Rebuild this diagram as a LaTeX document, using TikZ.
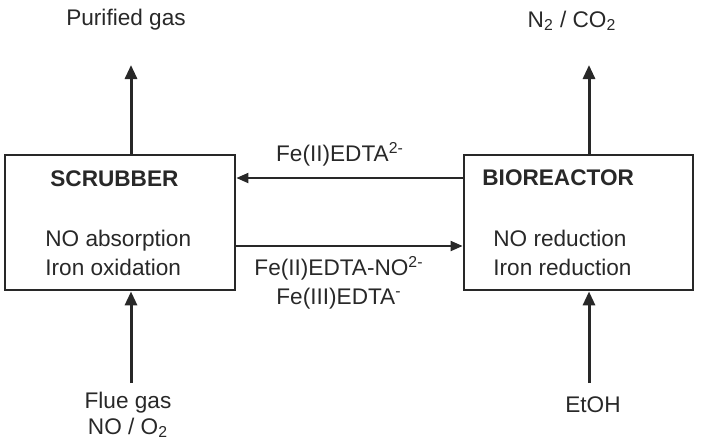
\documentclass[tikz,border=0pt]{standalone}
\usepackage{fontspec}
\setmainfont{Liberation Sans}
\usepackage{tikz}
\usetikzlibrary{arrows.meta, positioning}
\definecolor{mydark}{RGB}{40,40,40}
\tikzset{
  unitbox/.style={rectangle, draw=mydark, line width=1.4pt,
    minimum width=115pt, minimum height=67.5pt, inner sep=0pt},
  boxtitle/.style={anchor=west, inner sep=0pt, font=\fontsize{11.3}{14.5}\selectfont\bfseries},
  boxtext/.style={anchor=west, inner sep=0pt, align=left},
  streamlbl/.style={inner sep=0pt, align=center},
  arrow/.style={-{Triangle[width=6pt,length=7pt]}, line width=1.5pt, color=mydark},
  flowarrow/.style={-{Triangle[width=5pt,length=6pt]}, line width=1pt, color=mydark}
}

\begin{document}
\begin{tikzpicture}[x=0.5pt, y=-0.5pt, every node/.style={font=\fontsize{11.3}{14.5}\selectfont, text=mydark}]
  \useasboundingbox (0,0) rectangle (701,441);

  % Units
  \node[unitbox] (scrubber) at (120,222.5) {};
  \node[unitbox, minimum width=114.5pt] (bioreactor) at (578.5,222.5) {};

  % Text in the units
  \node[boxtitle] (scrtitle) at (50,179) {SCRUBBER};
  \node[boxtext] (scrtext) at (45,252.5) {NO absorption\\Iron oxidation};
  \node[boxtitle] (biotitle) at (482,178) {BIOREACTOR};
  \node[boxtext] (biotext) at (493,252.5) {NO reduction\\Iron reduction};

  % Outer streams
  \node[streamlbl] (purified) at (126,20) {Purified gas};
  \node[streamlbl] (offgas) at (572,21) {N\textsubscript{2} / CO\textsubscript{2}};
  \node[streamlbl, font=\fontsize{11.3}{13}\selectfont] (flue) at (128,415) {Flue gas\\NO / O\textsubscript{2}};
  \node[streamlbl] (etoh) at (593,405) {EtOH};

  \coordinate (scrout) at (131,65);
  \coordinate (scrin) at (131,383);
  \coordinate (bioout) at (589,65);
  \coordinate (bioin) at (589,383);

  % Connections
  \draw[arrow] (scrubber.north -| scrout) -- (scrout);
  \draw[arrow] (scrin) -- (scrubber.south -| scrin);
  \draw[arrow] (bioreactor.north -| bioout) -- (bioout);
  \draw[arrow] (bioin) -- (bioreactor.south -| bioin);

  \draw[flowarrow] ([yshift=22.25pt]bioreactor.west) -- ([yshift=22.25pt]scrubber.east);
  \draw[flowarrow] ([yshift=-11.75pt]scrubber.east) -- ([yshift=-11.75pt]bioreactor.west);

  % Solution labels
  \node[streamlbl] (lean) at (340,154) {Fe(II)EDTA\textsuperscript{2-}};
  \node[streamlbl] (loaded) at (339,282.5) {Fe(II)EDTA-NO\textsuperscript{2-}\\Fe(III)EDTA\textsuperscript{-}};
\end{tikzpicture}
\end{document}
